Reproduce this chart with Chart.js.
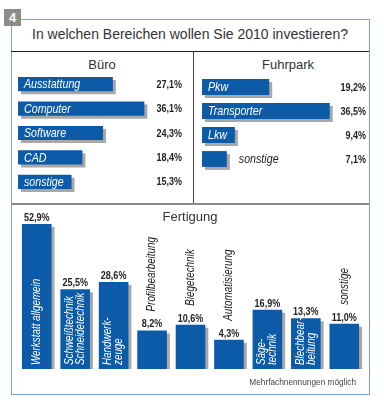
<!DOCTYPE html>
<html>
<head>
<meta charset="utf-8">
<script src="https://cdn.jsdelivr.net/npm/chart.js@4"></script>
<style>
  body { margin: 0; background: #fff; font-family: "Liberation Sans", Arial, sans-serif; }
  #wrap { position: relative; width: 384px; height: 410px; overflow: hidden; }
  #wrap div, #wrap canvas { position: absolute; }
  #frame { left: 11px; top: 19px; width: 359px; height: 376px; border: 1px solid #7aa3cc; box-sizing: border-box; }
  #num { left: 4px; top: 9px; width: 17px; height: 17px; background: #8c8c8c; color: #fff; font-weight: bold; font-size: 13px; line-height: 17px; text-align: center; }
  #title { left: 11px; top: 26px; width: 358px; text-align: center; font-size: 14px; color: #333; }
  .head { font-size: 13px; color: #333; text-align: center; }
  #note { right: 28px; top: 377px; font-size: 9px; color: #444; transform: scaleX(0.92); transform-origin: right center; white-space: nowrap; }
</style>
</head>
<body>
<div id="wrap">
  <div id="frame"></div>
  <div id="num">4</div>
  <div id="title">In welchen Bereichen wollen Sie 2010 investieren?</div>
  <div style="left:11px;top:51px;width:358px;height:1px;background:#222"></div>
  <div style="left:193px;top:51px;width:1px;height:153px;background:#444"></div>
  <div style="left:11px;top:203px;width:358px;height:2px;background:#8a8a8a"></div>
  <div class="head" style="left:11px;top:57px;width:182px">Büro</div>
  <div class="head" style="left:200px;top:57px;width:176px">Fuhrpark</div>
  <canvas id="buero" width="182" height="140" style="left:11px;top:60px"></canvas>
  <canvas id="fuhrpark" width="172" height="140" style="left:195px;top:60px"></canvas>
  <canvas id="fertigung" width="356" height="185" style="left:12px;top:200px"></canvas>
  <div class="head" style="left:11px;top:209px;width:358px">Fertigung</div>
  <div id="note">Mehrfachnennungen möglich</div>
</div>
<script>
const bueroCategories = ['Ausstattung', 'Computer', 'Software', 'CAD', 'sonstige'];
const bueroValues = [27.1, 36.1, 24.3, 18.4, 15.3];

const fuhrparkCategories = ['Pkw', 'Transporter', 'Lkw', 'sonstige'];
const fuhrparkValues = [19.2, 36.5, 9.4, 7.1];

const fertigungCategories = [
    ['Werkstatt allgemein'],
    ['Schweißtechnik', 'Schneidetechnik'],
    ['Handwerk-', 'zeuge'],
    ['Profilbearbeitung'],
    ['Biegetechnik'],
    ['Automatisierung'],
    ['Säge-', 'technik'],
    ['Blechbear-', 'beitung'],
    ['sonstige']
];
const fertigungValues = [52.9, 25.5, 28.6, 8.2, 10.6, 4.3, 16.9, 13.3, 11.0];

const blue = '#0b5ba8';
const face = '"Liberation Sans", Arial, sans-serif';
const squeeze = 0.82; // no narrow font installed, so squeeze the regular one

function pct(v) {
    return v.toFixed(1).replace('.', ',') + '%';
}

// draws text squeezed along its own direction (ctx may already be rotated)
function narrowText(ctx, text, x, y, align) {
    ctx.save();
    ctx.translate(x, y);
    ctx.scale(squeeze, 1);
    ctx.textAlign = align;
    ctx.fillText(text, 0, 0);
    ctx.restore();
}

function narrowWidth(ctx, text) {
    return ctx.measureText(text).width * squeeze;
}

// grey drop shadow behind every bar
const shadowPlugin = {
    id: 'shadow',
    beforeDatasetsDraw(chart) {
        const ctx = chart.ctx;
        ctx.save();
        ctx.shadowColor = '#a8a8a8';
        ctx.shadowOffsetX = 3;
        ctx.shadowOffsetY = 3;
        ctx.shadowBlur = 0;
    },
    afterDatasetsDraw(chart) {
        chart.ctx.restore();
    }
};

// names inside the bars, values at the right edge
const hLabels = {
    id: 'hLabels',
    afterDraw(chart) {
        const ctx = chart.ctx;
        const values = chart.data.datasets[0].data;
        ctx.save();
        ctx.textBaseline = 'middle';
        chart.getDatasetMeta(0).data.forEach((bar, i) => {
            const name = chart.data.labels[i];
            ctx.font = 'italic 13px ' + face;
            const w = narrowWidth(ctx, name);
            if (w + 8 <= bar.x - bar.base) {
                ctx.fillStyle = '#fff';
                narrowText(ctx, name, bar.base + 6, bar.y + 0.5, 'left');
            } else {
                ctx.fillStyle = '#222';
                narrowText(ctx, name, bar.x + 12, bar.y + 0.5, 'left');
            }
            ctx.font = 'bold 11px ' + face;
            ctx.fillStyle = '#222';
            narrowText(ctx, pct(values[i]), chart.chartArea.right + 3, bar.y + 0.5, 'right');
        });
        ctx.restore();
    }
};

// rotated names inside tall bars, above short ones; values on top
const vLabels = {
    id: 'vLabels',
    afterDraw(chart) {
        const ctx = chart.ctx;
        const values = chart.data.datasets[0].data;
        chart.getDatasetMeta(0).data.forEach((bar, i) => {
            const lines = chart.data.labels[i];
            const h = bar.base - bar.y;
            ctx.save();
            ctx.font = 'bold 11px ' + face;
            ctx.fillStyle = '#222';
            ctx.textBaseline = 'alphabetic';
            narrowText(ctx, pct(values[i]), bar.x, bar.y - 3, 'center');

            ctx.font = 'italic 12px ' + face;
            ctx.textBaseline = 'middle';
            if (h >= 48) {
                ctx.translate(bar.x, bar.base - 4);
                ctx.fillStyle = '#fff';
            } else {
                ctx.translate(bar.x, bar.y - 19);
                ctx.fillStyle = '#222';
            }
            ctx.rotate(-Math.PI / 2);
            lines.forEach((line, j) => {
                narrowText(ctx, line, 0, (j - (lines.length - 1) / 2) * 11, 'left');
            });
            ctx.restore();
        });
    }
};

function hBar(id, labels, values, thickness, padding) {
    return new Chart(document.getElementById(id), {
        type: 'bar',
        data: {
            labels: labels,
            datasets: [{
                data: values,
                backgroundColor: blue,
                barPercentage: thickness,
                categoryPercentage: 1
            }]
        },
        options: {
            indexAxis: 'y',
            responsive: false,
            animation: false,
            layout: { padding: padding },
            plugins: { legend: { display: false }, tooltip: { enabled: false } },
            scales: {
                x: { display: false, min: 0, max: 46 },
                y: { display: false }
            }
        },
        plugins: [shadowPlugin, hLabels]
    });
}

hBar('buero', bueroCategories, bueroValues, 0.58, { left: 7, right: 14, top: 12, bottom: 6 });
hBar('fuhrpark', fuhrparkCategories, fuhrparkValues, 0.66, { left: 7, right: 4, top: 15, bottom: 29 });

new Chart(document.getElementById('fertigung'), {
    type: 'bar',
    data: {
        labels: fertigungCategories,
        datasets: [{
            data: fertigungValues,
            backgroundColor: blue,
            base: -8,
            barPercentage: 0.77,
            categoryPercentage: 1
        }]
    },
    options: {
        responsive: false,
        animation: false,
        layout: { padding: { left: 5.5, right: 4.5, top: 6, bottom: 16 } },
        plugins: { legend: { display: false }, tooltip: { enabled: false } },
        scales: {
            x: { display: false },
            y: { display: false, min: -8, max: 60.5 }
        }
    },
    plugins: [shadowPlugin, vLabels]
});
</script>
</body>
</html>
